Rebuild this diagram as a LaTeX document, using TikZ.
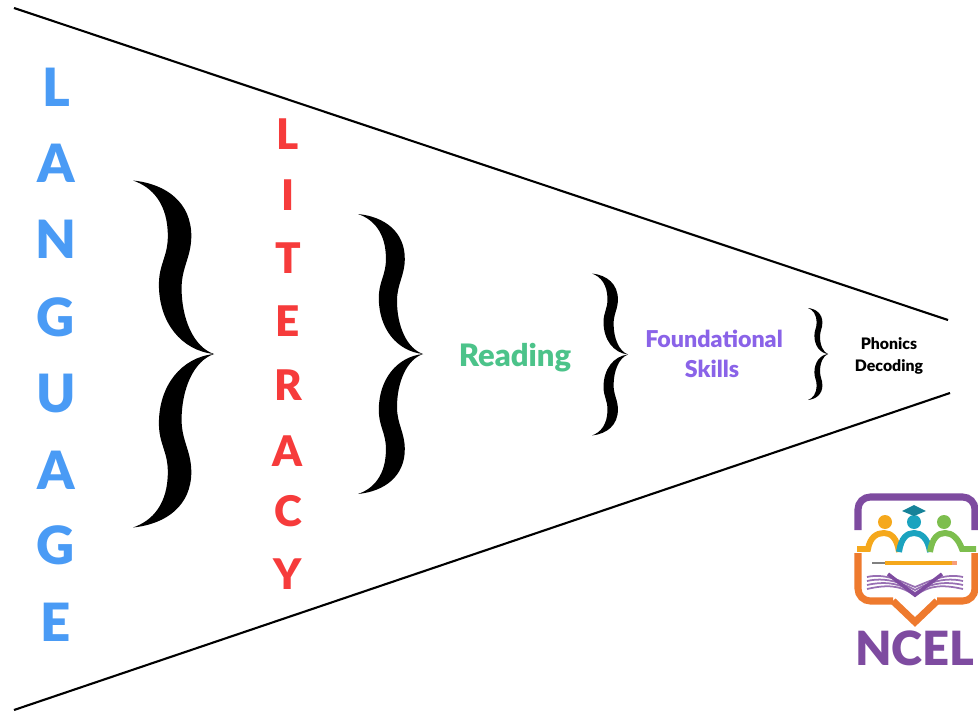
\documentclass[tikz,border=0pt]{standalone}
\usepackage{fontspec}
\setmainfont{Lato}[BoldFont={Lato Black}]
\definecolor{langblue}{HTML}{4A9BF5}
\definecolor{litred}{HTML}{F63B3B}
\definecolor{readgreen}{HTML}{4CC38A}
\definecolor{skillpurple}{HTML}{8A63E8}
\definecolor{logopurple}{HTML}{7E4BA0}
\definecolor{logoorange}{HTML}{EE7A2E}
\definecolor{logoyellow}{HTML}{F5A81C}
\definecolor{logoteal}{HTML}{1BA3BF}
\definecolor{logogreen}{HTML}{7DBE4E}
\tikzset{
  langletter/.style={text=langblue,font=\fontsize{15}{15}\selectfont\bfseries},
  litletter/.style={text=litred,font=\fontsize{12}{12}\selectfont\bfseries},
  skillword/.style={text=skillpurple,font=\fontsize{6.6}{6.6}\selectfont\bfseries},
  phonicsword/.style={font=\fontsize{4.5}{4.5}\selectfont\bfseries},
  funnel/.style={line width=0.6pt},
  pics/curly/.style={code={
    \foreach \s in {1,-1}
      \fill[black,yscale=\s] (0,1) .. controls (0.42,0.98) and (0.72,0.87) .. (0.72,0.68)
        .. controls (0.72,0.56) and (0.60,0.5) .. (0.60,0.38)
        .. controls (0.60,0.2) and (0.75,0.04) .. (1,0)
        .. controls (0.6,0.02) and (0.32,0.18) .. (0.32,0.40)
        .. controls (0.32,0.52) and (0.43,0.56) .. (0.43,0.68)
        .. controls (0.43,0.86) and (0.25,0.96) .. (0,1) -- cycle;
  }}
}
\begin{document}
\begin{tikzpicture}[x=0.01cm,y=-0.01cm]
  \useasboundingbox (0,0) rectangle (978,712);
  % funnel
  \coordinate (topstart) at (14,8);
  \coordinate (topend) at (948,320);
  \coordinate (botstart) at (14,710);
  \coordinate (botend) at (950,393);
  \draw[funnel] (topstart) -- (topend);
  \draw[funnel] (botstart) -- (botend);
  % vertical words
  \foreach \c/\y [count=\i] in {L/87,A/163,N/239,G/317,U/393,A/470,G/545,E/622}
    \node[langletter] (lang\i) at (56,\y) {\c};
  \foreach \c/\y [count=\i] in {L/134,I/195,T/258,E/321,R/385,A/451,C/511,Y/574}
    \node[litletter] (lit\i) at (288,\y) {\c};
  % braces
  \pic[xscale=81,yscale=173.5] at (133,354) {curly};
  \pic[xscale=65,yscale=140] at (358,354) {curly};
  \pic[xscale=36,yscale=81] at (592,354.5) {curly};
  \pic[xscale=20,yscale=46] at (808,354) {curly};
  % words
  \node[text=readgreen,font=\fontsize{8.8}{8.8}\selectfont\bfseries] (reading) at (515,358) {Reading};
  \node[skillword] (found) at (714,339) {Foundational};
  \node[skillword] (skills) at (712,369) {Skills};
  \node[phonicsword] (phonics) at (889,344) {Phonics};
  \node[phonicsword] (decoding) at (889,367) {Decoding};
  % logo
  \draw[logopurple,line width=2pt,rounded corners=3.5pt] (858,530) -- (858,497) -- (975,497) -- (975,530);
  \draw[logoorange,line width=2pt,rounded corners=3.5pt] (858,553) -- (858,601) -- (893,601);
  \draw[logoorange,line width=2pt,rounded corners=3.5pt] (975,553) -- (975,601) -- (937,601);
  \draw[logoorange,line width=2pt,line join=miter] (893,601) -- (915,622) -- (937,601);
  \fill[logoyellow] (885,522) circle (7);
  \fill[logoteal] (914,522) circle (7);
  \fill[logogreen] (944,522) circle (7);
  \fill[logoteal!80!black] (902,511) -- (914,505) -- (926,511) -- (914,516) -- cycle;
  \draw[logoyellow,line width=1.7pt] (857,549) -- (868,549) .. controls (870,537) and (877,533) .. (884,533) .. controls (891,533) and (897,538) .. (899,552);
  \draw[logoteal,line width=1.7pt] (899,552) .. controls (901,538) and (907,533) .. (914,533) .. controls (921,533) and (928,538) .. (930,552);
  \draw[logogreen,line width=1.7pt] (930,552) .. controls (932,538) and (938,533) .. (945,533) .. controls (952,533) and (958,538) .. (962,549) -- (976,549);
  \draw[gray,line width=0.7pt] (872,563) -- (885,563);
  \draw[logoyellow,line width=1.4pt] (885,563) -- (952,563);
  \draw[logoorange!50!pink,line width=1.4pt] (952,563) -- (957,563);
  \foreach \s in {0,1,2,3}
    \draw[logopurple!80,line width=0.5pt] (867,{589-4*\s}) .. controls (885,{585-4*\s}) and (900,{584-\s}) .. (915,{596-3*\s})
      .. controls (930,{584-\s}) and (945,{585-4*\s}) .. (963,{589-4*\s});
  \draw[logopurple,line width=1pt] (888,574) -- (915,595) -- (942,574);
  \node[text=logopurple,font=\fontsize{13.4}{13.4}\selectfont\bfseries,inner sep=0pt] (ncel) at (915,648) {NCEL};
\end{tikzpicture}
\end{document}
